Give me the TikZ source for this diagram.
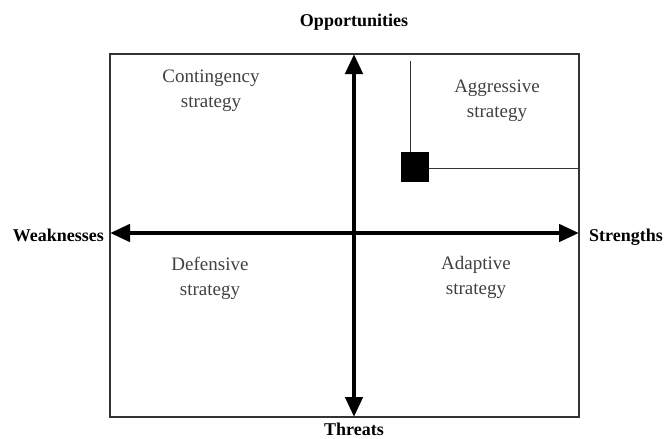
\documentclass[tikz,border=0pt]{standalone}
\usepackage{fontspec}
\setmainfont{Liberation Serif}
\usetikzlibrary{arrows.meta}
\begin{document}
\begin{tikzpicture}[x=1pt,y=-1pt,
  frame/.style={draw=black!80,line width=1.3pt},
  thin/.style={draw=black!80,line width=1pt},
  axis/.style={line width=4.5pt,{Triangle[length=20pt,width=17pt]}-{Triangle[length=20pt,width=17pt]}},
  quad/.style={align=center,text=black!75,font=\fontsize{19}{25}\selectfont,inner sep=0pt},
  lab/.style={font=\fontsize{18}{20}\selectfont\bfseries,inner sep=0pt,text=black}]
\useasboundingbox (0,0) rectangle (664,439);
\coordinate (bl) at (110,417);
\coordinate (tr) at (579,54);
\draw[frame] (bl) rectangle (tr);
\coordinate (W) at (110,233);
\coordinate (E) at (579,233);
\coordinate (N) at (354,54);
\coordinate (S) at (354,417);
\draw[axis] (W) -- (E);
\draw[axis] (S) -- (N);
\node[fill=black,minimum width=28pt,minimum height=30pt,inner sep=0pt] (sq) at (415,167) {};
\coordinate (vtop) at (410,61);
\coordinate (hend) at (579,168);
\draw[thin] (vtop) -- (vtop |- sq.north);
\draw[thin] (sq.east |- hend) -- (hend);
\node[quad] (c) at (211,91) {Contingency\\strategy};
\node[quad] (a) at (497,101) {Aggressive\\strategy};
\node[quad] (d) at (210,278) {Defensive\\strategy};
\node[quad] (ad) at (476,277) {Adaptive\\strategy};
\node[lab] (o) at (354,22) {Opportunities};
\node[lab] (t) at (354,429) {Threats};
\node[lab,anchor=east] (w) at (104,235) {Weaknesses};
\node[lab,anchor=west] (s) at (589,237) {Strengths};
\end{tikzpicture}
\end{document}
